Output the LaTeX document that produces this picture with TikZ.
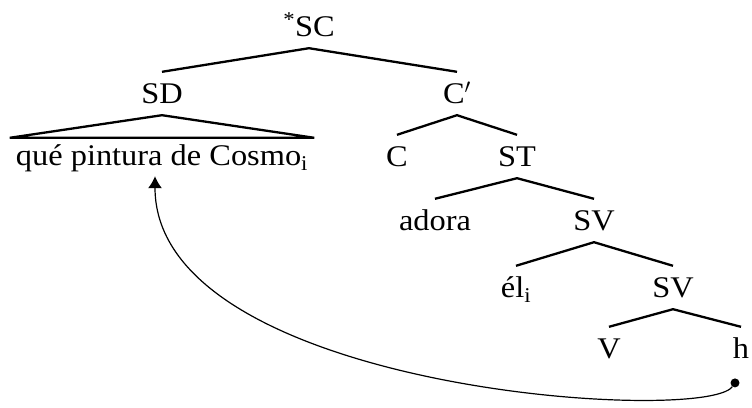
\documentclass[tikz,border=0pt]{standalone}
\usepackage{fontspec}
\setmainfont[FakeStretch=1.08]{Liberation Serif}
\usetikzlibrary{positioning,arrows.meta,calc}
\definecolor{ink}{gray}{0.0}
\tikzset{
  cat/.style={anchor=base, inner xsep=2pt, inner ysep=12pt, text height=19pt,
              text depth=0pt, font=\fontsize{30}{36}\selectfont},
  roofed/.style={cat, inner xsep=6pt, inner ysep=8pt},
  branch/.style={draw=ink, line width=2.3pt},
  trace/.style={-{Latex[length=12pt,width=14pt]}, draw=ink, line width=1.2pt},
  tracedot/.style={circle, fill=ink, inner sep=0pt, minimum size=9pt},
}

\begin{document}
\begin{tikzpicture}[x=1pt,y=1pt]
  \useasboundingbox (0,0) rectangle (752,-407);
  % categories
  \node[cat] (sc) at (309,-36) {\textsuperscript{*}SC};
  \node[cat] (sd) at (162,-103) {SD};
  \node[cat] (cbar) at (457,-103) {C$'$};
  \node[roofed] (phrase) at (162,-165) {qué pintura de Cosmo\textsubscript{i}};
  \node[cat] (c) at (397,-166) {C};
  \node[cat] (st) at (517,-166) {ST};
  \node[cat] (adora) at (435,-230) {adora};
  \node[cat] (sv) at (594,-230) {SV};
  \node[cat] (el) at (516,-297) {él\textsubscript{i}};
  \node[cat] (svlow) at (673,-297) {SV};
  \node[cat] (v) at (609,-358) {V};
  \node[cat] (h) at (741,-358) {h};
  \node[tracedot, below=8pt of h, xshift=-6pt] (hdot) {};
  \coordinate (target) at ([xshift=-7pt,yshift=-3pt]phrase.south);
  % branches
  \draw[branch] (sd.north) -- (sc.south) -- (cbar.north);
  \draw[branch] (phrase.north west) -- (sd.south) -- (phrase.north east) -- cycle;
  \draw[branch] (c.north) -- (cbar.south) -- (st.north);
  \draw[branch] (adora.north) -- (st.south) -- (sv.north);
  \draw[branch] (el.north) -- (sv.south) -- (svlow.north);
  \draw[branch] (v.north) -- (svlow.south) -- (h.north);
  % movement
  \draw[trace] (hdot) .. controls +(-30,-42) and +(0,-215) .. (target);
\end{tikzpicture}
\end{document}
